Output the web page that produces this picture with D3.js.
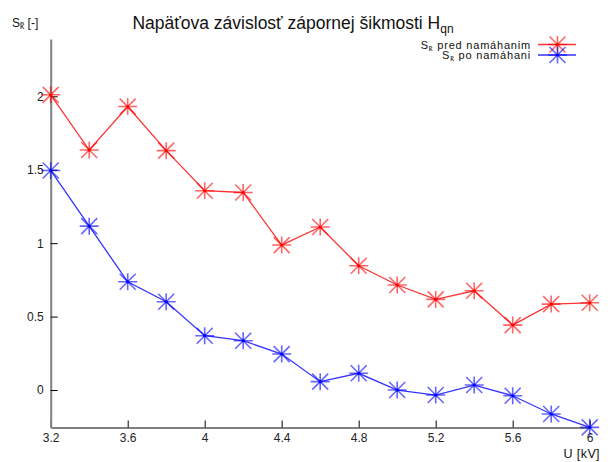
<!DOCTYPE html>
<html>
<head>
<meta charset="utf-8">
<script src="https://cdn.jsdelivr.net/npm/d3@7"></script>
<style>
  html, body { margin: 0; padding: 0; background: #fff; }
  svg { display: block; font-family: "Liberation Sans", Arial, Helvetica, sans-serif; }
</style>
</head>
<body>
<svg id="chart" width="608" height="462"></svg>
<script>
const voltages = [3.2, 3.4, 3.6, 3.8, 4.0, 4.2, 4.4, 4.6, 4.8, 5.0, 5.2, 5.4, 5.6, 5.8, 6.0];
const predValues = [2.01, 1.634, 1.93, 1.63, 1.357, 1.345, 0.987, 1.11, 0.846, 0.715, 0.617, 0.676, 0.442, 0.585, 0.594];
const poValues = [1.495, 1.116, 0.737, 0.601, 0.37, 0.336, 0.245, 0.057, 0.114, 0.0, -0.034, 0.034, -0.039, -0.163, -0.254];
const xTicks = [3.2, 3.6, 4.0, 4.4, 4.8, 5.2, 5.6, 6.0];
const yTicks = [0, 0.5, 1, 1.5, 2];
const seriesNames = ["pred namáhanim", "po namáhani"];
const seriesColors = ["#ff0000", "#0000ff"];

const svg = d3.select("#chart");
const x = d3.scaleLinear().domain([3.2, 6.0]).range([50.7, 589.7]);
const y = d3.scaleLinear().domain([-0.255, 2.39]).range([427.5, 39]);

// Axes
const fmt = d => String(+d.toFixed(1));
const gx = svg.append("g").attr("transform", `translate(0,${y.range()[0]})`)
  .call(d3.axisBottom(x).tickValues(xTicks).tickFormat(fmt).tickSizeInner(-7).tickSizeOuter(0).tickPadding(6));
const gy = svg.append("g").attr("transform", `translate(${x.range()[0]},0)`)
  .call(d3.axisLeft(y).tickValues(yTicks).tickFormat(fmt).tickSizeInner(-7).tickSizeOuter(0).tickPadding(7));
[gx, gy].forEach(g => {
  g.select(".domain").attr("stroke", "#808080").attr("stroke-width", 2);
  g.selectAll(".tick line").attr("stroke", "#000").attr("stroke-width", 1);
  g.selectAll(".tick text").attr("fill", "#222").style("font-size", "12px")
    .style("font-family", '"Liberation Sans", Arial, sans-serif');
});

// star marker
function starPath(cx, cy) {
  const h = 9.5, v = 8.5, d = 8;
  return `M${cx - h},${cy}L${cx + h},${cy}M${cx},${cy - v}L${cx},${cy + v}` +
         `M${cx - d},${cy - d}L${cx + d},${cy + d}M${cx - d},${cy + d}L${cx + d},${cy - d}`;
}

const allSeries = [predValues, poValues];
const line = d3.line().x((d, i) => x(voltages[i])).y(d => y(d));

allSeries.forEach((vals, si) => {
  const col = seriesColors[si];
  const g = svg.append("g");
  g.append("path").datum(vals).attr("d", line)
    .attr("fill", "none").attr("stroke", col).attr("stroke-opacity", 0.8).attr("stroke-width", 1.3);
  g.selectAll("path.star").data(vals).join("path").attr("class", "star")
    .attr("d", (d, i) => starPath(x(voltages[i]), y(d)))
    .attr("stroke", col).attr("stroke-opacity", 0.6).attr("stroke-width", 1.6).attr("fill", "none");
  g.selectAll("circle").data(vals).join("circle")
    .attr("cx", (d, i) => x(voltages[i])).attr("cy", d => y(d)).attr("r", 1.6).attr("fill", col);
});

// Legend
const legendRows = [44.5, 55];
seriesNames.forEach((name, si) => {
  const ly = legendRows[si];
  const col = seriesColors[si];
  const t = svg.append("text").attr("x", 531).attr("y", ly + 4).attr("text-anchor", "end")
    .style("font-size", "11px").style("letter-spacing", "0.8px").attr("fill", "#111");
  t.append("tspan").text("S");
  t.append("tspan").attr("dy", 2).style("font-size", "7.5px").text("k\u0303");
  t.append("tspan").attr("dy", -2).text(" " + name);
  svg.append("line").attr("x1", 538).attr("x2", 576).attr("y1", ly).attr("y2", ly)
    .attr("stroke", col).attr("stroke-opacity", 0.8).attr("stroke-width", 1.3);
  svg.append("path").attr("d", starPath(557.5, ly)).attr("stroke", col)
    .attr("stroke-opacity", 0.6).attr("stroke-width", 1.6).attr("fill", "none");
  svg.append("circle").attr("cx", 557.5).attr("cy", ly).attr("r", 1.6).attr("fill", col);
});

// Title
const title = svg.append("text").attr("x", 293).attr("y", 29).attr("text-anchor", "middle")
  .style("font-size", "17.5px").attr("fill", "#111");
title.append("tspan").text("Napäťova závislosť zápornej šikmosti H");
title.append("tspan").attr("dy", 4).style("font-size", "12px").text("qn");

// Y label
const yl = svg.append("text").attr("x", 12).attr("y", 27).style("font-size", "12px").attr("fill", "#111");
yl.append("tspan").text("S");
yl.append("tspan").attr("dy", 2).style("font-size", "8.5px").text("k\u0303");
yl.append("tspan").attr("dy", -2).text(" [-]");

// X label
svg.append("text").attr("x", 600).attr("y", 458).attr("text-anchor", "end")
  .style("font-size", "12.5px").style("letter-spacing", "0.4px").attr("fill", "#111").text("U [kV]");
</script>
</body>
</html>
